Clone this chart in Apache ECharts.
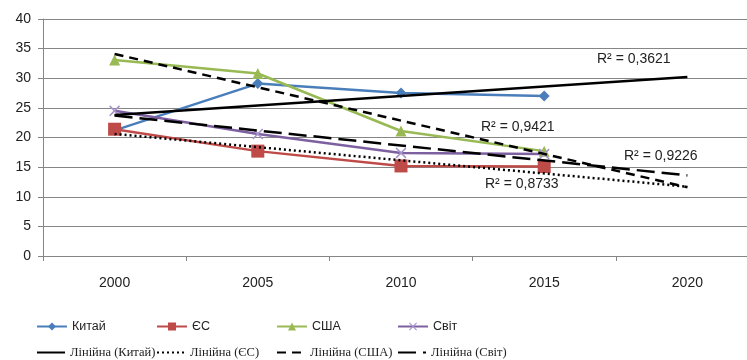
<!DOCTYPE html>
<html>
<head>
<meta charset="utf-8">
<script src="https://cdn.jsdelivr.net/npm/echarts@6/dist/echarts.min.js"></script>
<style>html,body{margin:0;padding:0;background:#fff;overflow:hidden;width:747px;height:360px}#c{width:759px;height:360px}</style>
</head>
<body>
<div id="c"></div>
<script>
const categories = ['2000', '2005', '2010', '2015', '2020'];
const china = [21.2, 29.1, 27.5, 27.0, null];
const eu = [21.4, 17.7, 15.2, 15.1, null];
const usa = [33.1, 30.8, 21.1, 17.7, null];
const world = [24.5, 20.6, 17.4, 17.2, null];
// trend lines (read at start and end points)
const chinaTrend = [23.8, null, null, null, 30.2];
const euTrend = [20.6, null, null, null, 11.7];
const usaTrend = [34.1, null, null, null, 11.6];
const worldTrend = [23.7, null, null, null, 13.6];
const r2Labels = ['R² = 0,3621', 'R² = 0,9421', 'R² = 0,9226', 'R² = 0,8733'];
const seriesNames = ['Китай', 'ЄС', 'США', 'Світ'];
const trendNames = ['Лінійна (Китай)', 'Лінійна (ЄС)', 'Лінійна (США)', 'Лінійна (Світ)'];

const chart = echarts.init(document.getElementById('c'), null, {renderer: 'canvas'});
const gray = '#868686';
const sansFont = "'Liberation Sans', sans-serif";
const serifFont = "'Liberation Serif', serif";
const crossPath = 'path://M0,1 L1,0 L5,4 L9,0 L10,1 L6,5 L10,9 L9,10 L5,6 L1,10 L0,9 L4,5 Z';

function dataSeries(name, data, color, symbol, size, symColor) {
  return {
    name, type: 'line', data, symbol, symbolSize: size, showSymbol: true,
    lineStyle: {color, width: 2.5}, itemStyle: {color: symColor || color},
    z: 2, animation: false
  };
}
function trendSeries(name, data, type) {
  return {
    name, type: 'line', data, connectNulls: true, symbol: 'none',
    lineStyle: {color: '#000', width: 2.5, type, cap: 'butt'},
    itemStyle: {color: '#000'}, z: 3, animation: false
  };
}
const cols = [31, 151, 271, 392];
const legends = [];
for (let i = 0; i < 4; i++) {
  legends.push({
    left: cols[i], top: 315, itemWidth: 30, itemHeight: 10,
    selectedMode: false, data: [seriesNames[i]],
    textStyle: {fontFamily: sansFont, fontSize: 12.5, color: '#222'}
  });
  legends.push({
    left: cols[i], top: 341, itemWidth: 28, itemHeight: 10,
    selectedMode: false, data: [trendNames[i]],
    itemStyle: {opacity: 0},
    textStyle: {fontFamily: serifFont, fontSize: 12.5, color: '#222'}
  });
}
const r2Pos = [[597, 52], [481, 120], [624, 149], [485, 177]];
chart.setOption({
  animation: false,
  backgroundColor: '#fff',
  grid: {left: 43, right: 0, top: 19, bottom: 104},
  legend: legends,
  xAxis: {
    type: 'category', data: categories, boundaryGap: true,
    axisLine: {lineStyle: {color: gray, width: 1}},
    axisTick: {show: true, length: 5, lineStyle: {color: gray}},
    axisLabel: {color: '#222', fontSize: 14, fontFamily: sansFont, margin: 20}
  },
  yAxis: {
    type: 'value', min: 0, max: 40, interval: 5,
    axisLine: {show: true, lineStyle: {color: gray, width: 1}},
    axisTick: {show: true, length: 5, lineStyle: {color: gray}},
    splitLine: {lineStyle: {color: gray, width: 1}},
    axisLabel: {color: '#222', fontSize: 14, fontFamily: sansFont, margin: 12}
  },
  graphic: r2Labels.map((t, i) => ({
    type: 'text', left: r2Pos[i][0], top: r2Pos[i][1],
    style: {text: t, fill: '#222', font: "14px 'Liberation Sans', sans-serif"}
  })),
  series: [
    dataSeries(seriesNames[0], china, '#4A7EBB', 'diamond', 11),
    dataSeries(seriesNames[1], eu, '#BE4B48', 'rect', 13),
    dataSeries(seriesNames[2], usa, '#98B954', 'triangle', 11),
    dataSeries(seriesNames[3], world, '#7D60A0', crossPath, 11, '#A593CC'),
    trendSeries(trendNames[0], chinaTrend, 'solid'),
    trendSeries(trendNames[1], euTrend, [2, 3]),
    trendSeries(trendNames[2], usaTrend, [9, 6]),
    trendSeries(trendNames[3], worldTrend, [18, 7])
  ]
});
</script>
</body>
</html>
